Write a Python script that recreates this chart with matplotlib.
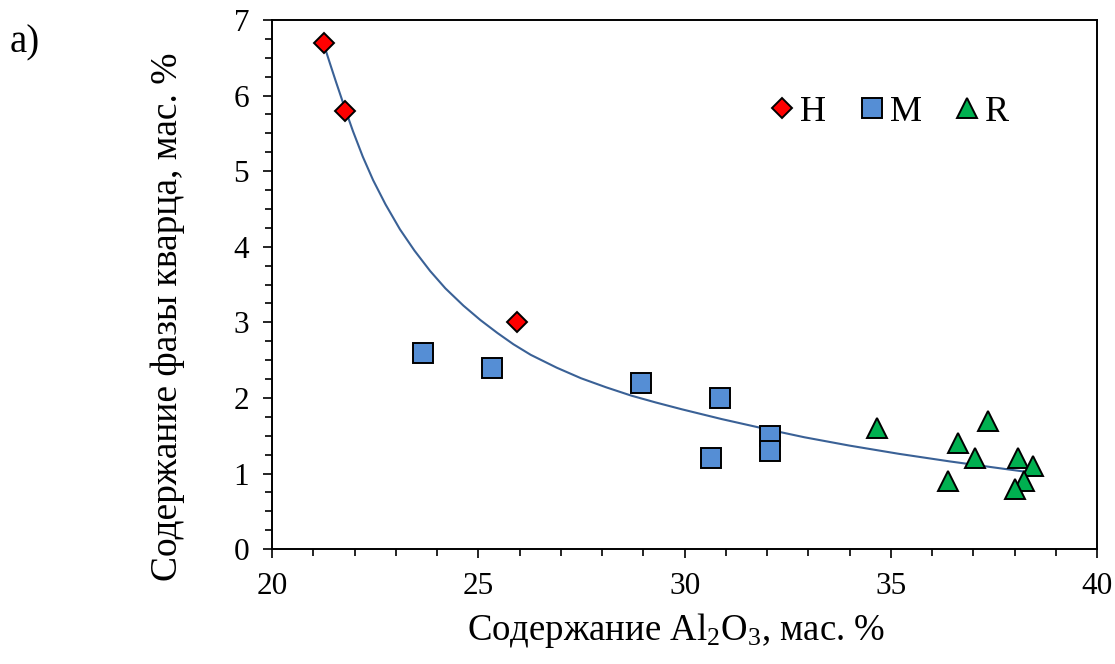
import numpy as np
import matplotlib
matplotlib.use("Agg")
import matplotlib.pyplot as plt
from matplotlib.ticker import MultipleLocator

plt.rcParams["font.family"] = ["Liberation Serif", "DejaVu Serif"]
plt.rcParams["mathtext.fontset"] = "custom"
plt.rcParams["mathtext.rm"] = "Liberation Serif"

### данные ###
h_x = [21.27, 21.76, 25.93]
h_y = [6.7, 5.8, 3.0]

m_x = [23.66, 25.34, 28.95, 30.85, 32.07, 32.08, 30.63]
m_y = [2.6, 2.4, 2.2, 2.0, 1.5, 1.3, 1.2]

r_x = [34.66, 37.36, 36.63, 37.05, 36.39, 38.07, 38.45, 38.22, 38.02]
r_y = [1.6, 1.7, 1.4, 1.2, 0.9, 1.2, 1.1, 0.9, 0.8]

# линия тренда (точки)
trend_x = [21.27, 21.4, 21.55, 21.76, 21.96, 22.2, 22.45, 22.75, 23.1, 23.45,
           23.83, 24.2, 24.64, 25.05, 25.46, 25.85, 26.27, 26.9, 27.49, 28.1,
           28.71, 29.3, 29.93, 30.9, 31.96, 32.9, 33.99, 35.2, 36.43, 37.5, 38.45]
trend_y = [6.65, 6.43, 6.18, 5.84, 5.53, 5.19, 4.88, 4.56, 4.23, 3.95,
           3.68, 3.45, 3.22, 3.03, 2.86, 2.71, 2.57, 2.40, 2.26, 2.14,
           2.03, 1.94, 1.85, 1.72, 1.59, 1.48, 1.37, 1.26, 1.16, 1.08, 1.01]

fig = plt.figure(figsize=(11.15, 6.64), dpi=100)
ax = fig.add_axes([0.244, 0.173, 0.740, 0.797])

ax.plot(trend_x, trend_y, color="#3A6196", linewidth=1.5, zorder=2)

ax.plot(h_x, h_y, "D", color="#FF0000", markersize=10, markeredgecolor="black",
        markeredgewidth=1.4, linestyle="none", label="H", zorder=3)
ax.plot(m_x, m_y, "s", color="#558ED5", markersize=14, markeredgecolor="black",
        markeredgewidth=1.4, linestyle="none", label="M", zorder=3)
ax.plot(r_x, r_y, "^", color="#00B050", markersize=14, markeredgecolor="black",
        markeredgewidth=1.4, linestyle="none", label="R", zorder=3)

ax.set_xlim(20, 40)
ax.set_ylim(0, 7)
ax.xaxis.set_major_locator(MultipleLocator(5))
ax.xaxis.set_minor_locator(MultipleLocator(1))
ax.yaxis.set_major_locator(MultipleLocator(1))
ax.yaxis.set_minor_locator(MultipleLocator(0.25))

for s in ax.spines.values():
    s.set_linewidth(1.4)
ax.tick_params(which="major", direction="out", length=6.5, width=1.2, labelsize=22.5, pad=10)
ax.tick_params(which="minor", direction="out", length=5, width=1.2)

ax.set_xlabel("Содержание Al$\\mathregular{_2}$O$\\mathregular{_3}$, мас. %", fontsize=26.5)
ax.set_ylabel("Содержание фазы кварца, мас. %", fontsize=27)
ax.xaxis.set_label_coords(0.49, -0.117)
ax.yaxis.set_label_coords(-0.105, 0.44)

ax.legend(loc="center", bbox_to_anchor=(0.747, 0.826), ncol=3, frameon=False,
          fontsize=26, handletextpad=0.1, columnspacing=0.85, handlelength=0.8,
          borderpad=0.2)

fig.text(0.009, 0.935, "a)", fontsize=28, ha="left", va="center")

fig.savefig("out.png", dpi=100)
